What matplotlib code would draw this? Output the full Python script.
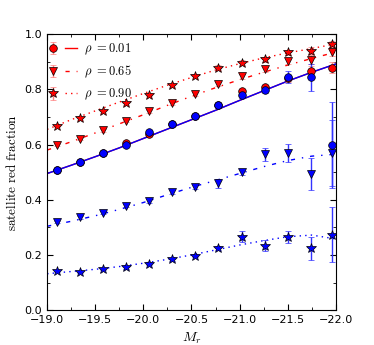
import matplotlib
matplotlib.use("Agg")
import matplotlib.pyplot as plt
import numpy as np
from matplotlib.legend_handler import HandlerTuple
from matplotlib.ticker import MultipleLocator

plt.rcParams["mathtext.fontset"] = "cm"
plt.rcParams["font.size"] = 8
# old-style dash patterns
plt.rcParams["lines.dashdot_pattern"] = [3.0, 5.0, 1.0, 5.0]
plt.rcParams["lines.dotted_pattern"] = [1.0, 3.0]
plt.rcParams["lines.scale_dashes"] = False

# magnitude bins (same for every sample)
mag = [-19.10, -19.34, -19.58, -19.82, -20.06, -20.30, -20.54,
       -20.78, -21.02, -21.26, -21.50, -21.74, -21.96]

# measured red fractions, red sample
red_low = [0.507, 0.535, 0.568, 0.604, 0.638, 0.674, 0.705, 0.745, 0.793, 0.807, 0.840, 0.865, 0.878]
red_low_err = [0.005, 0.005, 0.005, 0.005, 0.006, 0.006, 0.007, 0.008, 0.009, 0.010, 0.012, 0.018, 0.020]
red_mid = [0.598, 0.621, 0.652, 0.685, 0.720, 0.749, 0.783, 0.819, 0.848, 0.873, 0.903, 0.908, 0.936]
red_mid_err = [0.005, 0.005, 0.005, 0.005, 0.006, 0.006, 0.007, 0.008, 0.009, 0.010, 0.012, 0.015, 0.015]
red_high = [0.668, 0.695, 0.721, 0.750, 0.781, 0.814, 0.847, 0.879, 0.897, 0.909, 0.934, 0.940, 0.964]
red_high_err = [0.005, 0.005, 0.005, 0.005, 0.006, 0.006, 0.007, 0.008, 0.009, 0.010, 0.010, 0.012, 0.012]

# measured red fractions, blue sample
blue_low = [0.507, 0.537, 0.568, 0.598, 0.645, 0.674, 0.703, 0.743, 0.779, 0.797, 0.845, 0.843, 0.599]
blue_low_err = [0.005, 0.005, 0.005, 0.005, 0.006, 0.006, 0.007, 0.008, 0.009, 0.010, 0.022, 0.050, 0.155]
blue_mid = [0.318, 0.336, 0.353, 0.378, 0.395, 0.428, 0.448, 0.460, 0.501, 0.564, 0.568, 0.494, 0.569]
blue_mid_err = [0.004, 0.004, 0.005, 0.005, 0.006, 0.006, 0.008, 0.017, 0.010, 0.022, 0.033, 0.057, 0.120]
blue_high = [0.142, 0.137, 0.149, 0.155, 0.168, 0.184, 0.197, 0.226, 0.266, 0.234, 0.266, 0.224, 0.274]
blue_high_err = [0.004, 0.004, 0.004, 0.005, 0.005, 0.006, 0.006, 0.008, 0.020, 0.021, 0.022, 0.042, 0.100]

# model curves
mag_model = [-19.0, -19.25, -19.5, -19.75, -20.0, -20.25, -20.5,
             -20.75, -21.0, -21.25, -21.5, -21.75, -22.0]
model_low = [0.495, 0.525, 0.556, 0.588, 0.622, 0.656, 0.690, 0.724, 0.760, 0.795, 0.830, 0.862, 0.892]
model_red_mid = [0.580, 0.610, 0.642, 0.675, 0.708, 0.742, 0.775, 0.806, 0.835, 0.862, 0.888, 0.912, 0.935]
model_red_high = [0.655, 0.690, 0.722, 0.754, 0.785, 0.815, 0.843, 0.870, 0.893, 0.914, 0.932, 0.948, 0.965]
model_blue_mid = [0.304, 0.322, 0.342, 0.365, 0.390, 0.418, 0.445, 0.470, 0.495, 0.520, 0.542, 0.558, 0.565]
model_blue_high = [0.132, 0.140, 0.148, 0.158, 0.170, 0.184, 0.200, 0.218, 0.236, 0.252, 0.266, 0.272, 0.258]

rho_labels = [r"$\rho\ {=}0.01$", r"$\rho\ {=}0.65$", r"$\rho\ {=}0.90$"]

fig = plt.figure(figsize=(3.74, 3.45), dpi=100)
ax = fig.add_axes([0.126, 0.101, 0.772, 0.80])

eb_kw = dict(ls="none", capsize=2.5, elinewidth=1, capthick=1, mec="black", mew=0.5)

# model lines
l_red_low, = ax.plot(mag_model, model_low, "-", color="red", lw=1)
l_red_mid, = ax.plot(mag_model, model_red_mid, "-.", color="red", lw=1)
l_red_high, = ax.plot(mag_model, model_red_high, ":", color="red", lw=1)
ax.plot(mag_model, model_low, "-", color="blue", lw=1)
ax.plot(mag_model, model_blue_mid, "-.", color="blue", lw=1)
ax.plot(mag_model, model_blue_high, ":", color="blue", lw=1)

# data points
e_red_low = ax.errorbar(mag, red_low, yerr=red_low_err, fmt="o", color="red", ecolor="#ff8080", ms=5.5, **eb_kw)
e_red_mid = ax.errorbar(mag, red_mid, yerr=red_mid_err, fmt="v", color="red", ecolor="#ff8080", ms=5.5, **eb_kw)
e_red_high = ax.errorbar(mag, red_high, yerr=red_high_err, fmt="*", color="red", ecolor="#ff8080", ms=7.5, **eb_kw)
ax.errorbar(mag, blue_low, yerr=blue_low_err, fmt="o", color="blue", ecolor="#3333ff", ms=5.5, **eb_kw)
ax.errorbar(mag, blue_mid, yerr=blue_mid_err, fmt="v", color="blue", ecolor="#3333ff", ms=5.5, **eb_kw)
ax.errorbar(mag, blue_high, yerr=blue_high_err, fmt="*", color="blue", ecolor="#3333ff", ms=7.5, **eb_kw)

ax.set_xlim(-19.0, -22.0)
ax.set_ylim(0.0, 1.0)
ax.xaxis.set_major_locator(MultipleLocator(0.5))
ax.xaxis.set_minor_locator(MultipleLocator(0.25))
ax.yaxis.set_major_locator(MultipleLocator(0.2))
ax.yaxis.set_minor_locator(MultipleLocator(0.1))
ax.tick_params(which="both", direction="in", top=True, right=True, labelsize=8)
ax.tick_params(which="major", length=4)
ax.tick_params(which="minor", length=2)

ax.set_xlabel(r"$M_r$", fontsize=10)
ax.set_ylabel(r"$\mathrm{satellite\ red\ fraction}$", fontsize=9.5)

ax.legend([(e_red_low, l_red_low), (e_red_mid, l_red_mid), (e_red_high, l_red_high)], rho_labels,
          handler_map={tuple: HandlerTuple(ndivide=None, pad=0.5)}, loc="upper left",
          bbox_to_anchor=(-0.01, 0.982),
          frameon=False, fontsize=9, handlelength=2.4, handletextpad=0.6,
          borderaxespad=0.0, borderpad=0.2, labelspacing=0.55)

fig.savefig("out.png", dpi=100)
